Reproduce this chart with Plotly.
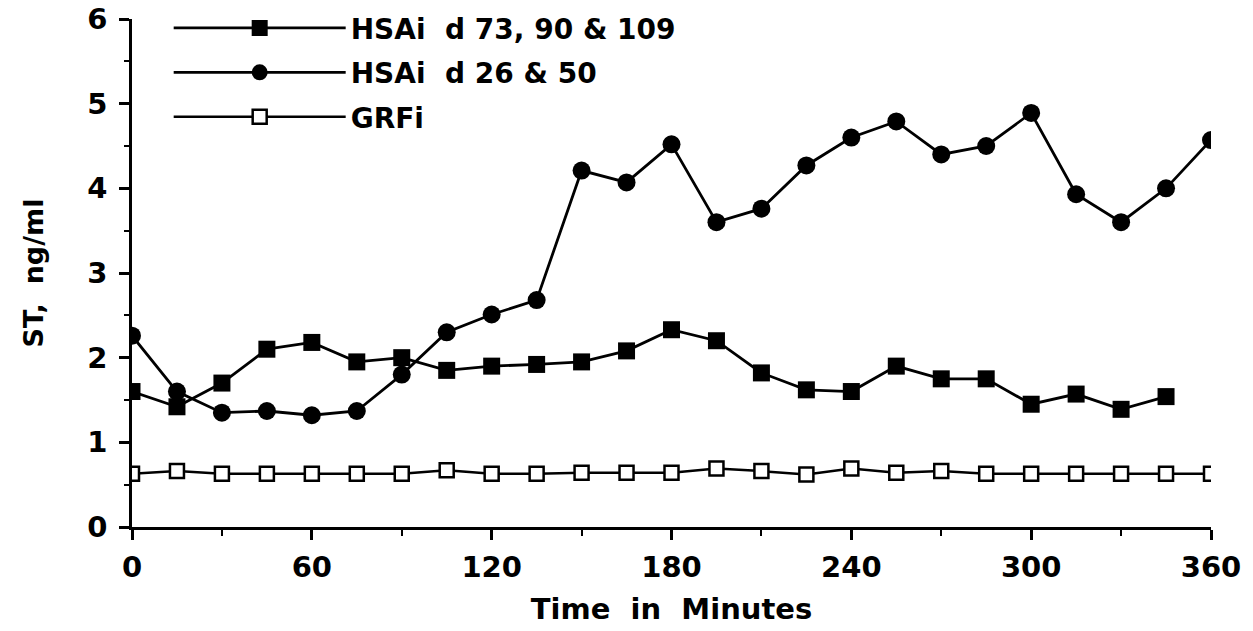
import plotly.graph_objects as go

time_min = [0, 15, 30, 45, 60, 75, 90, 105, 120, 135, 150, 165, 180, 195, 210,
            225, 240, 255, 270, 285, 300, 315, 330, 345, 360]

hsa_late = [1.60, 1.42, 1.70, 2.10, 2.18, 1.95, 2.00, 1.85, 1.90, 1.92, 1.95, 2.08,
            2.33, 2.20, 1.82, 1.62, 1.60, 1.90, 1.75, 1.75, 1.45, 1.57, 1.39, 1.54]
hsa_early = [2.26, 1.60, 1.35, 1.37, 1.32, 1.37, 1.80, 2.30, 2.51, 2.68, 4.21, 4.07,
             4.52, 3.60, 3.76, 4.27, 4.60, 4.79, 4.40, 4.50, 4.89, 3.93, 3.60, 4.00, 4.57]
grfi = [0.63, 0.66, 0.63, 0.63, 0.63, 0.63, 0.63, 0.67, 0.63, 0.63, 0.64, 0.64,
        0.64, 0.69, 0.66, 0.62, 0.69, 0.64, 0.66, 0.63, 0.63, 0.63, 0.63, 0.63, 0.63]

names = ["HSAi  d 73, 90 & 109", "HSAi  d 26 & 50", "GRFi"]
x_ticks = [0, 60, 120, 180, 240, 300, 360]
y_ticks = [0, 1, 2, 3, 4, 5, 6]

FONT = "DejaVu Sans"
fig = go.Figure()
fig.add_trace(go.Scatter(
    x=time_min[:len(hsa_late)], y=hsa_late, name=names[0], legendgroup="a",
    mode="lines+markers", line=dict(color="black", width=2.8),
    marker=dict(symbol="square", size=17, color="black")))
fig.add_trace(go.Scatter(
    x=time_min, y=hsa_early, name=names[1], legendgroup="b",
    mode="lines+markers", line=dict(color="black", width=2.8),
    marker=dict(symbol="circle", size=18, color="black")))
fig.add_trace(go.Scatter(
    x=time_min, y=grfi, name=names[2], legendgroup="c",
    mode="lines+markers", line=dict(color="black", width=2.5),
    marker=dict(symbol="square", size=14, color="white",
                line=dict(color="black", width=2.5))))

fig.update_layout(
    width=1253, height=631,
    margin=dict(l=132, r=42, t=19, b=104, autoexpand=False),
    paper_bgcolor="white", plot_bgcolor="white",
    font=dict(family=FONT, color="black", size=22),
    showlegend=True,
    legend=dict(x=0.034, y=1.031, xanchor="left", yanchor="top",
                font=dict(family=FONT, size=28, color="black", weight="bold"),
                itemwidth=172, tracegroupgap=5, bgcolor="rgba(0,0,0,0)"),
    xaxis=dict(range=[0, 360], tickvals=x_ticks, ticktext=[str(v) for v in x_ticks],
               showgrid=False, zeroline=False, showline=True, linecolor="black",
               linewidth=2.5, ticks="outside", ticklen=10, tickwidth=2.5, tickcolor="black",
               minor=dict(dtick=30, ticks="outside", ticklen=6, tickwidth=2, tickcolor="black"),
               tickfont=dict(family=FONT, size=29, weight="bold"),
               ticklabelstandoff=2,
               title=dict(text="Time  in  Minutes", standoff=17,
                          font=dict(family=FONT, size=29, weight="bold"))),
    yaxis=dict(range=[0, 6], tickvals=y_ticks,
               showgrid=False, zeroline=False, showline=True, linecolor="black",
               linewidth=2.5, ticks="outside", ticklen=10, tickwidth=2.5, tickcolor="black",
               minor=dict(dtick=0.5, ticks="outside", ticklen=5, tickwidth=2, tickcolor="black"),
               tickfont=dict(family=FONT, size=29, weight="bold"),
               ticklabelstandoff=6,
               title=dict(text="ST,  ng/ml", standoff=36,
                          font=dict(family=FONT, size=27, weight="bold"))),
)
fig.write_html("out.html")
